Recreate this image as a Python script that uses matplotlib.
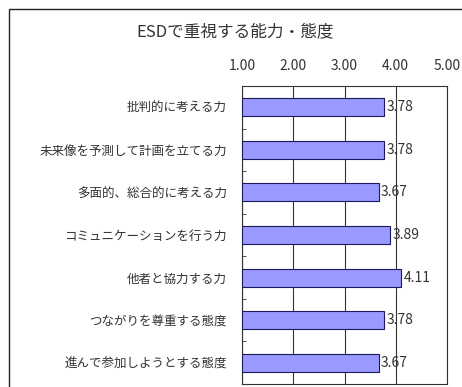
import matplotlib.pyplot as plt
from matplotlib.patches import Rectangle

plt.rcParams['font.family'] = ['Noto Sans CJK JP', 'DejaVu Sans']

# データ
title = 'ESDで重視する能力・態度'
labels = ['批判的に考える力', '未来像を予測して計画を立てる力', '多面的、総合的に考える力',
          'コミュニケーションを行う力', '他者と協力する力', 'つながりを尊重する態度',
          '進んで参加しようとする態度']
values = [3.78, 3.78, 3.67, 3.89, 4.11, 3.78, 3.67]
ticks = [1.00, 2.00, 3.00, 4.00, 5.00]

fig = plt.figure(figsize=(4.62, 3.87), dpi=100)

# 外枠
fig.patches.append(Rectangle((9 / 462, -0.05), 1.0, 1 - 9 / 387 + 0.05,
                             transform=fig.transFigure, fill=False,
                             edgecolor='#222222', linewidth=1.0))

ax = fig.add_axes([242 / 462, 1 - 384 / 387, 205 / 462, 298 / 387])
y = list(range(len(labels)))
ax.barh(y, [v - 1 for v in values], left=1, height=0.42,
        color='#9999FF', edgecolor='#1a1a5e', linewidth=0.8, zorder=3)

for yi, v in zip(y, values):
    ax.text(v + 0.04, yi, f'{v:.2f}', va='center', ha='left',
            fontsize=10, color='#333333', zorder=4)

ax.set_xlim(1, 5)
ax.set_ylim(len(labels) - 0.5, -0.5)
ax.set_xticks(ticks)
ax.set_xticklabels([f'{t:.2f}' for t in ticks])
ax.xaxis.tick_top()
ax.tick_params(axis='x', length=0, pad=9, labelsize=10, colors='#333333')
ax.set_yticks(y)
ax.set_yticklabels(labels)
ax.set_yticks([i + 0.5 for i in y[:-1]], minor=True)
ax.tick_params(axis='y', which='major', length=0, pad=11, labelsize=9, colors='#333333')
ax.tick_params(axis='y', which='minor', direction='in', length=3, color='#333333')
ax.grid(axis='x', color='#333333', linewidth=0.8, zorder=0)
for s in ax.spines.values():
    s.set_color('#333333')
    s.set_linewidth(0.8)

fig.text(235 / 462, 1 - 33 / 387, title, ha='center', va='center',
         fontsize=12, color='#333333')

fig.savefig('out.png', dpi=100)
